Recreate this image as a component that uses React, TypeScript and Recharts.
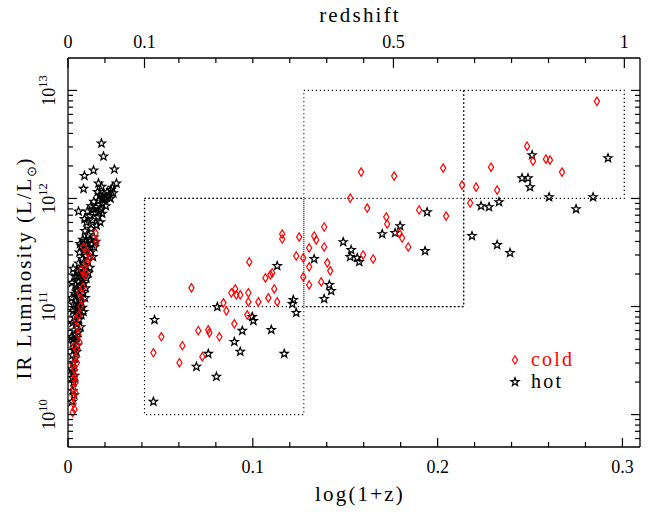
import React from 'react';
import { ScatterChart, Scatter, XAxis, YAxis, ReferenceArea, Legend } from 'recharts';

// ---------- axis / tick definitions ----------
const xMajorTicks = [0, 0.1, 0.2, 0.3];
const xMajorLabels = ['0', '0.1', '0.2', '0.3'];
const xMinorTicks = [0.02, 0.04, 0.06, 0.08, 0.12, 0.14, 0.16, 0.18, 0.22, 0.24, 0.26, 0.28];
const topMinorTicks = [0.02, 0.06, 0.08, 0.1, 0.12, 0.14, 0.16, 0.2, 0.22, 0.24, 0.26, 0.28];
const redshiftValues = [0, 0.1, 0.5, 1];
const redshiftLabels = ['0', '0.1', '0.5', '1'];
const yDecades = [10, 11, 12, 13];
const yDecadeLabels = ['10', '11', '12', '13'];
const yMinorMultipliers = [2, 3, 4, 5, 6, 7, 8, 9];

// ---------- selection boxes: log(1+z) bin edges and log L bins ----------
const binEdges = [0.0414, 0.1276, 0.2141, 0.301];
const boxes = [
  { x1: 0, x2: 1, y1: 10, y2: 12 },
  { x1: 1, x2: 2, y1: 11, y2: 13 },
  { x1: 2, x2: 3, y1: 12, y2: 13 },
  { x1: 0, x2: 2, y1: 11, y2: 12 },
];

// ---------- data: [log(1+z), log10(L_IR/Lsun)] ----------
const hotLocal: [number, number][] = [
  [0.0181, 12.51], [0.0192, 12.39], [0.0089, 12.21], [0.0138, 12.26], [0.0251, 12.27],
  [0.0084, 12.09], [0.0165, 12.14], [0.0181, 12.11], [0.0262, 12.14], [0.024, 12.1],
  [0.0186, 12.01], [0.0208, 12.01], [0.023, 12.0], [0.0057, 11.88], [0.0089, 11.81],
  [0.0125, 11.93], [0.014, 11.97], [0.0152, 11.92], [0.0165, 11.98], [0.0172, 12.03],
  [0.0185, 11.95], [0.0195, 12.04], [0.02, 11.99], [0.0212, 12.06], [0.022, 12.02],
  [0.0232, 12.08], [0.0245, 12.05], [0.0178, 11.9], [0.016, 12.06], [0.0205, 11.93],
  [0.008, 11.62], [0.0092, 11.7], [0.01, 11.78], [0.011, 11.66], [0.0118, 11.84],
  [0.0125, 11.72], [0.0132, 11.8], [0.014, 11.64], [0.0148, 11.87], [0.0155, 11.75],
  [0.0162, 11.83], [0.017, 11.88], [0.0175, 11.78], [0.0105, 11.88], [0.0095, 11.61],
  [0.0138, 11.9], [0.0185, 11.86], [0.012, 11.62],
  [0.005, 11.32], [0.0058, 11.4], [0.0062, 11.5], [0.0068, 11.35], [0.0072, 11.56],
  [0.0078, 11.44], [0.0082, 11.3], [0.0088, 11.52], [0.0092, 11.38], [0.0098, 11.47],
  [0.0102, 11.58], [0.0108, 11.42], [0.0112, 11.55], [0.0118, 11.36], [0.0122, 11.5],
  [0.0128, 11.58], [0.0135, 11.46], [0.0142, 11.55], [0.015, 11.6], [0.0065, 11.58],
  [0.0085, 11.33], [0.011, 11.31],
  [0.003, 11.02], [0.0035, 11.12], [0.004, 11.2], [0.0042, 11.05], [0.0048, 11.28],
  [0.0052, 11.15], [0.0055, 11.03], [0.0058, 11.23], [0.0062, 11.1], [0.0066, 11.28],
  [0.007, 11.18], [0.0072, 11.04], [0.0076, 11.25], [0.008, 11.12], [0.0084, 11.21],
  [0.0088, 11.29], [0.0092, 11.08], [0.0096, 11.17], [0.01, 11.26], [0.0045, 11.14],
  [0.006, 11.0], [0.0038, 11.28], [0.002, 11.08], [0.0022, 11.22], [0.0028, 11.35],
  [0.0022, 10.72], [0.0025, 10.85], [0.0028, 10.96], [0.0032, 10.78], [0.0035, 10.9],
  [0.004, 10.74], [0.0044, 10.98], [0.0048, 10.84], [0.0052, 10.93], [0.0056, 10.76],
  [0.006, 10.88], [0.0064, 10.97], [0.0068, 10.81], [0.0072, 10.92], [0.0078, 10.99],
  [0.003, 10.7], [0.0046, 10.71], [0.0084, 10.95],
  [0.002, 10.42], [0.0024, 10.55], [0.0026, 10.66], [0.003, 10.48], [0.0034, 10.6],
  [0.0038, 10.52], [0.0042, 10.68], [0.0046, 10.58], [0.005, 10.64], [0.0028, 10.4],
  [0.0022, 10.12], [0.0026, 10.22], [0.003, 10.3], [0.0034, 10.18], [0.0036, 10.36],
  [0.0024, 10.34],
];

const coldLocal: [number, number][] = [
  [0.0089, 11.29], [0.0062, 11.13], [0.0068, 11.0], [0.0051, 10.81], [0.0062, 10.67],
  [0.0041, 10.53], [0.0035, 10.42], [0.0041, 10.3], [0.003, 10.17], [0.0035, 10.05],
  [0.0149, 11.68], [0.0154, 11.6], [0.0105, 11.5], [0.0073, 11.34], [0.0095, 11.32],
  [0.0025, 10.02], [0.003, 10.1], [0.0028, 10.24], [0.0038, 10.36], [0.0026, 10.46],
  [0.0045, 10.6], [0.0033, 10.63], [0.0055, 10.74], [0.0042, 10.88], [0.0058, 10.92],
  [0.0075, 11.06], [0.008, 11.18], [0.01, 11.4], [0.012, 11.45], [0.0085, 11.55],
  [0.004, 10.2], [0.0032, 10.33], [0.0048, 10.48],
];

const hotDeep: [number, number][] = [
  [0.0468, 10.877], [0.0462, 10.12], [0.0695, 10.443], [0.0759, 10.563], [0.0803, 10.351],
  [0.0808, 10.997], [0.09, 10.674], [0.0932, 10.582], [0.0943, 10.776], [0.0997, 10.905],
  [0.1003, 10.868], [0.11, 10.785], [0.117, 10.563], [0.1219, 11.062], [0.1214, 11.025],
  [0.1235, 10.942], [0.1132, 11.376], [0.1332, 11.44], [0.1386, 11.071], [0.1414, 11.2],
  [0.1424, 11.145], [0.1489, 11.597], [0.1532, 11.524], [0.1527, 11.459], [0.1565, 11.45],
  [0.1576, 11.413], [0.17, 11.671], [0.177, 11.681], [0.1797, 11.745], [0.1943, 11.874],
  [0.1932, 11.514], [0.2186, 11.653], [0.2235, 11.93], [0.2278, 11.921], [0.2332, 11.967],
  [0.2322, 11.57], [0.2392, 11.496], [0.2457, 12.188], [0.2489, 12.188], [0.25, 12.105],
  [0.2511, 12.401], [0.2603, 12.013], [0.2749, 11.902], [0.2841, 12.013], [0.2922, 12.373],
];

const coldDeep: [number, number][] = [
  [0.0668, 11.173], [0.0462, 10.572], [0.0505, 10.72], [0.0603, 10.48], [0.0619, 10.637],
  [0.0705, 10.776], [0.0727, 10.536], [0.0759, 10.785], [0.0765, 10.757], [0.0819, 10.72],
  [0.0841, 11.034], [0.0857, 10.96], [0.0884, 11.127], [0.0905, 11.163], [0.0911, 11.108],
  [0.0932, 11.108], [0.09, 10.84], [0.0976, 11.127], [0.0976, 11.043], [0.097, 10.923],
  [0.103, 11.043], [0.1068, 11.265], [0.1084, 11.08], [0.1095, 11.293], [0.1105, 11.311],
  [0.1116, 11.163], [0.1132, 11.043], [0.0981, 11.413], [0.1159, 11.671], [0.1159, 11.625],
  [0.1251, 11.644], [0.1235, 11.468], [0.1273, 11.45], [0.1273, 11.274], [0.1305, 11.542],
  [0.1332, 11.653], [0.1343, 11.616], [0.1386, 11.736], [0.1386, 11.551], [0.1403, 11.404],
  [0.1419, 11.33], [0.1305, 11.367], [0.1305, 11.2], [0.137, 11.228], [0.1527, 12.004],
  [0.1586, 12.244], [0.1619, 11.911], [0.1722, 11.828], [0.1727, 11.764], [0.1765, 12.207],
  [0.1597, 11.477], [0.1651, 11.44], [0.1792, 11.681], [0.1808, 11.634], [0.1841, 11.551],
  [0.19, 11.893], [0.203, 12.281], [0.2046, 11.837], [0.2132, 12.124], [0.2176, 11.958],
  [0.2208, 12.105], [0.2289, 12.29], [0.2322, 12.078], [0.2484, 12.484], [0.2516, 12.345],
  [0.2586, 12.364], [0.2608, 12.355], [0.2673, 12.244], [0.2862, 12.899],
];

const toPoints = (arr: [number, number][]) => arr.map(([x, y]) => ({ x, y }));
const hotData = toPoints([...hotLocal, ...hotDeep]);
const coldData = toPoints([...coldLocal, ...coldDeep]);

// ---------- styling ----------
const FONT = "'Liberation Serif', 'Times New Roman', Times, serif";
const MAJ = 9;
const MIN = 5;
const AX = '#000';
const XDOMAIN: [number, number] = [0, 0.3095];
const YDOMAIN: [number, number] = [9.7, 13.3];

const topTicks = [...redshiftValues.map((z) => Math.log10(1 + z)), ...topMinorTicks];
const bottomTicks = [...xMajorTicks, ...xMinorTicks];
const yTicks: number[] = [];
for (let d = 9; d <= 13; d++) {
  if (d >= YDOMAIN[0] && d <= YDOMAIN[1]) yTicks.push(d);
  for (const m of yMinorMultipliers) {
    const v = d + Math.log10(m);
    if (v > YDOMAIN[0] && v < YDOMAIN[1]) yTicks.push(v);
  }
}

const near = (a: number, b: number) => Math.abs(a - b) < 1e-6;

const BottomTick = (p: any) => {
  const { x, y, payload } = p;
  const idx = xMajorTicks.findIndex((t) => near(t, payload.value));
  const major = idx >= 0;
  return (
    <g>
      <line x1={x} x2={x} y1={y} y2={y - (major ? MAJ : MIN)} stroke={AX} strokeWidth={1.2} />
      {major && (
        <text x={x} y={y + 26} textAnchor="middle" fontFamily={FONT} fontSize={18} fill="#000">
          {xMajorLabels[idx]}
        </text>
      )}
    </g>
  );
};

const TopTick = (p: any) => {
  const { x, y, payload } = p;
  const idx = redshiftValues.findIndex((z) => near(Math.log10(1 + z), payload.value));
  const major = idx >= 0;
  return (
    <g>
      <line x1={x} x2={x} y1={y} y2={y + (major ? MAJ + 1 : MIN)} stroke={AX} strokeWidth={1.2} />
      {major && (
        <text x={x} y={y - 10} textAnchor="middle" fontFamily={FONT} fontSize={18} fill="#000">
          {redshiftLabels[idx]}
        </text>
      )}
    </g>
  );
};

const LeftTick = (p: any) => {
  const { x, y, payload } = p;
  const idx = yDecades.findIndex((d) => near(d, payload.value));
  const major = idx >= 0;
  const bx = x - 13;
  return (
    <g>
      <line x1={x} x2={x + (major ? MAJ : MIN)} y1={y} y2={y} stroke={AX} strokeWidth={1.2} />
      {major && (
        <text
          x={bx}
          y={y}
          transform={`rotate(-90 ${bx} ${y})`}
          textAnchor="middle"
          fontFamily={FONT}
          fontSize={18}
          fill="#000"
        >
          10
          <tspan dy={-8} fontSize={12.5}>
            {yDecadeLabels[idx]}
          </tspan>
        </text>
      )}
    </g>
  );
};

const RightTick = (p: any) => {
  const { x, y, payload } = p;
  const major = yDecades.some((d) => near(d, payload.value));
  return <line x1={x} x2={x - (major ? MAJ : MIN)} y1={y} y2={y} stroke={AX} strokeWidth={1.2} />;
};

const starPath = (cx: number, cy: number, R: number, r: number) => {
  let d = '';
  for (let i = 0; i < 10; i++) {
    const a = -Math.PI / 2 + (i * Math.PI) / 5;
    const rad = i % 2 === 0 ? R : r;
    d += (i === 0 ? 'M' : 'L') + (cx + rad * Math.cos(a)).toFixed(2) + ',' + (cy + rad * Math.sin(a)).toFixed(2);
  }
  return d + 'Z';
};

const diamondPath = (cx: number, cy: number) =>
  `M${cx},${cy - 4.2}L${cx + 2.6},${cy}L${cx},${cy + 4.2}L${cx - 2.6},${cy}Z`;

const StarShape = (p: any) => {
  const { cx, cy } = p;
  if (cx == null || cy == null) return <g />;
  return <path d={starPath(cx, cy, 4.3, 1.8)} fill="none" stroke="#000" strokeWidth={1.25} />;
};

const DiamondShape = (p: any) => {
  const { cx, cy } = p;
  if (cx == null || cy == null) return <g />;
  return <path d={diamondPath(cx, cy)} fill="none" stroke="#ff0000" strokeWidth={1.2} />;
};

const LegendContent = () => (
  <svg width={110} height={50} style={{ display: 'block' }}>
    <path d={diamondPath(15, 15)} fill="none" stroke="#ff0000" strokeWidth={1.2} />
    <text x={31} y={21} fontFamily={FONT} fontSize={20} letterSpacing={2.2} fill="#ff0000">
      cold
    </text>
    <path d={starPath(15, 37, 4.3, 1.8)} fill="none" stroke="#000" strokeWidth={1.25} />
    <text x={31} y={43} fontFamily={FONT} fontSize={20} letterSpacing={2.2} fill="#000">
      hot
    </text>
  </svg>
);

export default function App() {
  return (
    <div style={{ position: 'absolute', left: 0, top: 0, width: 653, height: 512, background: '#fff' }}>
      <ScatterChart width={653} height={512} margin={{ top: 18, right: 0, bottom: 15, left: 8 }}>
        <XAxis
          xAxisId="bottom"
          type="number"
          dataKey="x"
          orientation="bottom"
          domain={XDOMAIN}
          allowDataOverflow
          ticks={bottomTicks}
          interval={0}
          tick={(p: any) => <BottomTick {...p} />}
          tickLine={false}
          tickSize={0}
          tickMargin={0}
          axisLine={{ stroke: AX, strokeWidth: 1.3 }}
          height={50}
          label={{
            content: () => (
              <text x={360} y={501} textAnchor="middle" fontFamily={FONT} fontSize={21} letterSpacing={2.2} fill="#000">
                log(1+z)
              </text>
            ),
          }}
        />
        <XAxis
          xAxisId="top"
          type="number"
          dataKey="x"
          orientation="top"
          domain={XDOMAIN}
          allowDataOverflow
          ticks={topTicks}
          interval={0}
          tick={(p: any) => <TopTick {...p} />}
          tickLine={false}
          tickSize={0}
          tickMargin={0}
          axisLine={{ stroke: AX, strokeWidth: 1.3 }}
          height={40}
          label={{
            content: () => (
              <text x={360} y={22} textAnchor="middle" fontFamily={FONT} fontSize={21} letterSpacing={2.2} fill="#000">
                redshift
              </text>
            ),
          }}
        />
        <YAxis
          yAxisId="left"
          type="number"
          dataKey="y"
          orientation="left"
          domain={YDOMAIN}
          allowDataOverflow
          ticks={yTicks}
          interval={0}
          tick={(p: any) => <LeftTick {...p} />}
          tickLine={false}
          tickSize={0}
          tickMargin={0}
          axisLine={{ stroke: AX, strokeWidth: 1.3 }}
          width={60}
          label={{
            content: () => (
              <text
                x={31}
                y={268}
                transform="rotate(-90 31 268)"
                textAnchor="middle"
                fontFamily={FONT}
                fontSize={21}
                letterSpacing={2}
                fill="#000"
              >
                IR Luminosity (L/L
                <tspan dy={5} fontSize={13} letterSpacing={0}>
                  ⊙
                </tspan>
                <tspan dy={-5}>)</tspan>
              </text>
            ),
          }}
        />
        <YAxis
          yAxisId="right"
          type="number"
          dataKey="y"
          orientation="right"
          domain={YDOMAIN}
          allowDataOverflow
          ticks={yTicks}
          interval={0}
          tick={(p: any) => <RightTick {...p} />}
          tickLine={false}
          tickSize={0}
          tickMargin={0}
          axisLine={{ stroke: AX, strokeWidth: 1.3 }}
          width={13}
        />
        {boxes.map((b, i) => (
          <ReferenceArea
            key={i}
            xAxisId="bottom"
            yAxisId="left"
            x1={binEdges[b.x1]}
            x2={binEdges[b.x2]}
            y1={b.y1}
            y2={b.y2}
            fill="none"
            fillOpacity={0}
            stroke="#000"
            strokeWidth={1.2}
            strokeDasharray="1.2 2.8"
            ifOverflow="visible"
          />
        ))}
        <Scatter
          name="hot"
          data={hotData}
          xAxisId="bottom"
          yAxisId="left"
          shape={(p: any) => <StarShape {...p} />}
          isAnimationActive={false}
        />
        <Scatter
          name="cold"
          data={coldData}
          xAxisId="bottom"
          yAxisId="left"
          shape={(p: any) => <DiamondShape {...p} />}
          isAnimationActive={false}
        />
        <Legend
          layout="horizontal"
          verticalAlign="middle"
          align="center"
          content={() => <LegendContent />}
          wrapperStyle={{ left: 500, top: 345, width: 110, height: 50 }}
        />
      </ScatterChart>
    </div>
  );
}
